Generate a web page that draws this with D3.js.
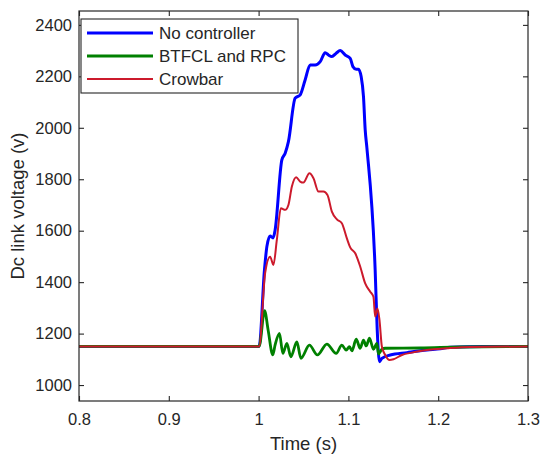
<!DOCTYPE html>
<html>
<head>
<meta charset="utf-8">
<script src="https://cdn.jsdelivr.net/npm/d3@7"></script>
<style>
  body { margin: 0; background: #fff; }
  text { font-family: "Liberation Sans", Arial, sans-serif; fill: #262626; }
</style>
</head>
<body>
<div id="chart"></div>
<script>
// values (time in s, voltage in V)
const seriesNames = ["No controller", "BTFCL and RPC", "Crowbar"];
const xTicks = [0.8, 0.9, 1.0, 1.1, 1.2, 1.3];
const yTicks = [1000, 1200, 1400, 1600, 1800, 2000, 2200, 2400];

const timeNoCtrl = [0.8, 0.9, 1.0006, 1.0065, 1.0092, 1.0128, 1.0162, 1.0184, 1.0259, 1.0296, 1.0332, 1.0407, 1.0463, 1.0518, 1.0574, 1.063, 1.0686, 1.0741, 1.0778, 1.0816, 1.0864, 1.0909, 1.0964, 1.102, 1.105, 1.1087, 1.1112, 1.1142, 1.1168, 1.1187, 1.1206, 1.1298, 1.1321, 1.1346, 1.1373, 1.1466, 1.1652, 1.1875, 1.2023, 1.2134, 1.25, 1.3];
const voltNoCtrl = [1150, 1150, 1150, 1447, 1538, 1579, 1572, 1603, 1875, 1901, 1946, 2115, 2128, 2186, 2244, 2244, 2257, 2292, 2283, 2277, 2290, 2300, 2283, 2270, 2238, 2228, 2228, 2199, 2121, 1992, 1922, 1447, 1214, 1091, 1104, 1117, 1126, 1136, 1141, 1147, 1150, 1150];

const timeBtfcl = [0.8, 0.9, 1.0006, 1.0067, 1.0106, 1.0158, 1.0184, 1.0232, 1.027, 1.0315, 1.0359, 1.0426, 1.0471, 1.0566, 1.0655, 1.076, 1.0864, 1.0927, 1.0975, 1.1012, 1.1039, 1.1087, 1.1131, 1.1168, 1.1198, 1.1235, 1.1279, 1.1317, 1.1335, 1.1373, 1.141, 1.18, 1.2246, 1.3];
const voltBtfcl = [1150, 1150, 1150, 1289, 1214, 1117, 1156, 1201, 1123, 1162, 1110, 1168, 1104, 1155, 1117, 1159, 1123, 1155, 1136, 1149, 1133, 1178, 1143, 1175, 1152, 1182, 1139, 1162, 1121, 1139, 1143, 1144, 1148, 1150];

const timeCrowbar = [0.8, 0.9, 1.0006, 1.0073, 1.0128, 1.0165, 1.0203, 1.0248, 1.0296, 1.0332, 1.037, 1.0418, 1.0463, 1.0499, 1.0566, 1.0611, 1.0667, 1.0722, 1.0767, 1.0816, 1.0872, 1.0927, 1.0983, 1.102, 1.1076, 1.1132, 1.1187, 1.1243, 1.1279, 1.1298, 1.1324, 1.1346, 1.1373, 1.141, 1.1458, 1.1502, 1.1596, 1.1707, 1.18, 1.1948, 1.2097, 1.2357, 1.3];
const voltCrowbar = [1150, 1150, 1150, 1436, 1499, 1467, 1564, 1687, 1681, 1700, 1771, 1808, 1791, 1787, 1823, 1804, 1752, 1752, 1739, 1674, 1644, 1629, 1570, 1535, 1512, 1460, 1395, 1363, 1343, 1266, 1298, 1253, 1149, 1117, 1097, 1100, 1117, 1126, 1132, 1139, 1143, 1148, 1150];

const colors = ["#0000ff", "#008000", "#cc1a2c"];
const widths = [3, 2.8, 2];

const width = 541, height = 456;
const margin = { left: 79, right: 13, top: 11, bottom: 55 };

const svg = d3.select("#chart").append("svg")
    .attr("width", width)
    .attr("height", height);

const x = d3.scaleLinear().domain([0.8, 1.3]).range([margin.left, width - margin.right]);
const y = d3.scaleLinear().domain([938, 2454]).range([height - margin.bottom, margin.top]);

const series = [
    { t: timeNoCtrl, v: voltNoCtrl },
    { t: timeBtfcl, v: voltBtfcl },
    { t: timeCrowbar, v: voltCrowbar }
];

const line = d3.line()
    .x(d => x(d[0]))
    .y(d => y(d[1]))
    .curve(d3.curveMonotoneX);

const plot = svg.append("g");
plot.append("clipPath").attr("id", "clip")
    .append("rect")
    .attr("x", margin.left).attr("y", margin.top)
    .attr("width", width - margin.left - margin.right)
    .attr("height", height - margin.top - margin.bottom);

// same plotting order as the source figure: blue, green, red on top
series.forEach((s, i) => {
    const pts = s.t.map((t, k) => [t, s.v[k]]);
    plot.append("path")
        .attr("clip-path", "url(#clip)")
        .attr("d", line(pts))
        .attr("fill", "none")
        .attr("stroke", colors[i])
        .attr("stroke-width", widths[i])
        .attr("stroke-linejoin", "round");
});

// axes, MATLAB style box with inward ticks
const axisColor = "#262626";
const tickLen = 5;
const x0 = margin.left, x1 = width - margin.right;
const y0 = height - margin.bottom, y1 = margin.top;

const axBottom = svg.append("g").attr("transform", `translate(0,${y0})`)
    .call(d3.axisBottom(x).tickValues(xTicks).tickSize(-tickLen).tickPadding(12)
        .tickFormat(d => d3.format("~g")(d)));
const axTop = svg.append("g").attr("transform", `translate(0,${y1})`)
    .call(d3.axisTop(x).tickValues(xTicks).tickSize(-tickLen).tickFormat(""));
const axLeft = svg.append("g").attr("transform", `translate(${x0},0)`)
    .call(d3.axisLeft(y).tickValues(yTicks).tickSize(-tickLen).tickPadding(7)
        .tickFormat(d3.format("d")));
const axRight = svg.append("g").attr("transform", `translate(${x1},0)`)
    .call(d3.axisRight(y).tickValues(yTicks).tickSize(-tickLen).tickFormat(""));

[axBottom, axTop, axLeft, axRight].forEach(g => {
    g.select(".domain").remove();
    g.selectAll(".tick line").attr("stroke", axisColor).attr("stroke-width", 1.1);
    g.selectAll(".tick text")
        .attr("font-family", "Liberation Sans, Arial, sans-serif")
        .attr("font-size", 16.5)
        .attr("fill", axisColor);
});

svg.append("rect")
    .attr("x", x0).attr("y", y1)
    .attr("width", x1 - x0).attr("height", y0 - y1)
    .attr("fill", "none")
    .attr("stroke", axisColor)
    .attr("stroke-width", 1.2);

svg.append("text")
    .attr("x", (x0 + x1) / 2)
    .attr("y", 450)
    .attr("text-anchor", "middle")
    .attr("font-size", 18.5)
    .text("Time (s)");

svg.append("text")
    .attr("transform", `translate(24,${(y0 + y1) / 2}) rotate(-90)`)
    .attr("text-anchor", "middle")
    .attr("font-size", 18.5)
    .text("Dc link voltage (v)");

// legend
const legend = svg.append("g");
legend.append("rect")
    .attr("x", 81).attr("y", 19)
    .attr("width", 217).attr("height", 74)
    .attr("fill", "#fff")
    .attr("stroke", axisColor)
    .attr("stroke-width", 1.1);

seriesNames.forEach((name, i) => {
    const ly = 33 + i * 23;
    legend.append("line")
        .attr("x1", 87).attr("x2", 153)
        .attr("y1", ly).attr("y2", ly)
        .attr("stroke", colors[i])
        .attr("stroke-width", widths[i]);
    legend.append("text")
        .attr("x", 159).attr("y", ly)
        .attr("dy", "0.35em")
        .attr("font-size", 17)
        .text(name);
});
</script>
</body>
</html>
